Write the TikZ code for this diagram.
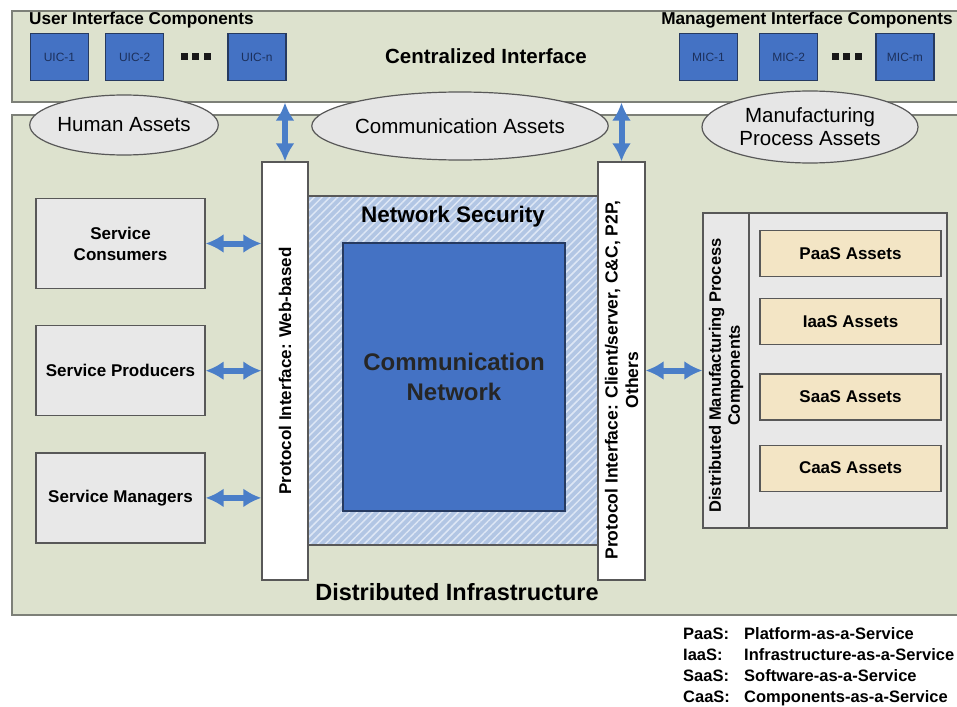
\documentclass[tikz,border=0pt]{standalone}
\usepackage{fontspec}
\setmainfont{Liberation Sans}
\usetikzlibrary{positioning, arrows.meta, patterns.meta, shapes.geometric}

\definecolor{panelfill}{RGB}{221,226,206}
\definecolor{panelline}{RGB}{125,128,120}
\definecolor{icblue}{RGB}{68,114,196}
\definecolor{icline}{RGB}{38,58,96}
\definecolor{icdark}{RGB}{28,48,92}
\definecolor{ellfill}{RGB}{230,230,230}
\definecolor{boxfill}{RGB}{232,232,232}
\definecolor{boxline}{RGB}{88,88,88}
\definecolor{tanfill}{RGB}{243,229,197}
\definecolor{hatchblue}{RGB}{178,198,228}
\definecolor{hatchline}{RGB}{222,231,245}
\definecolor{arrowblue}{RGB}{74,126,200}

\tikzset{
  panel/.style={draw=panelline, line width=1.6pt, fill=panelfill, anchor=north west, inner sep=0pt},
  icbox/.style={draw=icline, line width=1.2pt, fill=icblue, minimum width=58pt, minimum height=47pt,
    text=icdark, font=\fontsize{12}{12}\selectfont},
  asset/.style={ellipse, draw=boxline, line width=1.2pt, fill=ellfill, inner sep=0pt, align=center,
    font=\fontsize{20.5}{23}\selectfont},
  svcbox/.style={draw=boxline, line width=1.2pt, fill=boxfill, minimum width=169pt, minimum height=90pt,
    align=center, font=\bfseries\fontsize{17}{21}\selectfont},
  protobox/.style={draw=boxline, line width=1.2pt, fill=white, minimum height=418pt},
  tanbox/.style={draw=boxline, line width=1.2pt, fill=tanfill, minimum width=181pt, minimum height=46pt,
    font=\bfseries\fontsize{17}{20}\selectfont},
  vlabel/.style={rotate=90, align=center, font=\bfseries\fontsize{17}{20}\selectfont},
  title/.style={font=\bfseries\fontsize{20.5}{24}\selectfont},
  small/.style={font=\bfseries\fontsize{17.2}{20}\selectfont},
  legend/.style={anchor=base west, inner sep=0pt, font=\bfseries\fontsize{16.5}{18}\selectfont},
  dots/.style={inner sep=0pt, text=black!90},
  dbl/.style={arrowblue, line width=6pt, {Latex[length=18pt,width=19pt]}-{Latex[length=18pt,width=19pt]}}
}
\newcommand{\tripledot}{\rule{7pt}{7pt}\hspace{4.5pt}\rule{7pt}{7pt}\hspace{4.5pt}\rule{7pt}{7pt}}

\begin{document}
\begin{tikzpicture}[x=1pt, y=-1pt]
\useasboundingbox (0,0) rectangle (957,706);

\node[panel, minimum width=955pt, minimum height=91pt] (cint) at (11,10) {};
\node[panel, minimum width=955pt, minimum height=500pt] (dinf) at (11,114) {};

\node[small, anchor=west, inner sep=0pt] (uiclabel) at (29,20) {User Interface Components};
\node[small, anchor=east, inner sep=0pt] (miclabel) at (953,20) {Management Interface Components};
\node[title] (cintlabel) at (486,56) {Centralized Interface};

\node[icbox] (uic1) at (59.5,57) {UIC-1};
\node[icbox, right = 16pt of uic1] (uic2) {UIC-2};
\node[icbox, right = 63pt of uic2] (uicn) {UIC-n};
\path (uic2) -- (uicn) node[midway, dots] (uicdots) {\tripledot};

\node[icbox] (mic1) at (708.5,57) {MIC-1};
\node[icbox, right = 21pt of mic1] (mic2) {MIC-2};
\node[icbox, right = 57pt of mic2] (micm) {MIC-m};
\path (mic2) -- (micm) node[midway, dots] (micdots) {\tripledot};

\node[asset, minimum width=176pt, minimum height=60pt] (human) at (124,125) {Human Assets};
\node[asset, minimum width=290pt, minimum height=68pt] (comm) at (460,126) {Communication Assets};
\node[asset, minimum width=216pt, minimum height=72pt] (manuf) at (810,127) {Manufacturing\\Process Assets};

\node[draw=boxline, line width=1.2pt, minimum width=290pt, minimum height=349pt,
  preaction={fill=hatchblue}, pattern={Lines[angle=45, distance=5.5pt, line width=1.5pt]},
  pattern color=hatchline] (nsec) at (453,370.5) {};
\node[title, font=\bfseries\fontsize{22.5}{24}\selectfont, below = 7pt of nsec.north] (nseclabel) {Network Security};
\node[draw=icline, line width=1.2pt, fill=icblue, minimum width=222pt, minimum height=268pt,
  align=center, text=black!85, font=\bfseries\fontsize{24}{30}\selectfont] (cnet) at (454,377)
  {Communication\\Network};

\node[protobox, minimum width=46pt] (pwl) at (285,371) {};
\node[vlabel] (pwltext) at (pwl.center) {Protocol Interface: Web-based};
\node[protobox, minimum width=47pt] (pcs) at (621.5,371) {};
\node[vlabel, font=\bfseries\fontsize{17.5}{20.5}\selectfont, xshift=-9pt] (pcstext) at (pcs.center)
  {Protocol Interface: Client/server, C\&C, P2P,\\Others};

\node[svcbox] (consumers) at (120.5,243.5) {Service\\Consumers};
\node[svcbox, below = 36pt of consumers] (producers) {Service Producers};
\node[svcbox, below = 36pt of producers] (managers) {Service Managers};

\node[draw=boxline, line width=1.2pt, fill=boxfill, minimum width=244pt, minimum height=315pt] (dmpc) at (825,370.5) {};
\node[draw=boxline, line width=1.2pt, minimum width=46pt, minimum height=315pt, anchor=north west] (strip) at (dmpc.north west) {};
\node[vlabel, font=\bfseries\fontsize{16.5}{19}\selectfont, xshift=-5pt] (striptext) at (strip.center)
  {Distributed Manufacturing Process\\Components};

\node[tanbox] (paas) at (850.5,253.5) {PaaS Assets};
\node[tanbox, below = 21pt of paas] (iaas) {IaaS Assets};
\node[tanbox, below = 28pt of iaas] (saas) {SaaS Assets};
\node[tanbox, below = 24pt of saas] (caas) {CaaS Assets};

\node[title, font=\bfseries\fontsize{23.5}{26}\selectfont] (dinflabel) at (457,592) {Distributed Infrastructure};

\draw[dbl] (pwl.north |- cint.south) -- (pwl.north);
\draw[dbl] (pcs.north |- cint.south) -- (pcs.north);
\draw[dbl] (consumers.east) -- (consumers.east -| pwl.west);
\draw[dbl] (producers.east) -- (producers.east -| pwl.west);
\draw[dbl] (managers.east) -- (managers.east -| pwl.west);
\draw[dbl] (pcs.east |- dmpc.west) -- (dmpc.west);

\foreach \abbr/\full [count=\i] in {PaaS/Platform-as-a-Service, IaaS/Infrastructure-as-a-Service,
    SaaS/Software-as-a-Service, CaaS/Components-as-a-Service} {
  \node[legend] (abbr\i) at (683,618+21*\i) {\abbr:};
  \node[legend] (full\i) at (744,618+21*\i) {\full};
}

\end{tikzpicture}
\end{document}
